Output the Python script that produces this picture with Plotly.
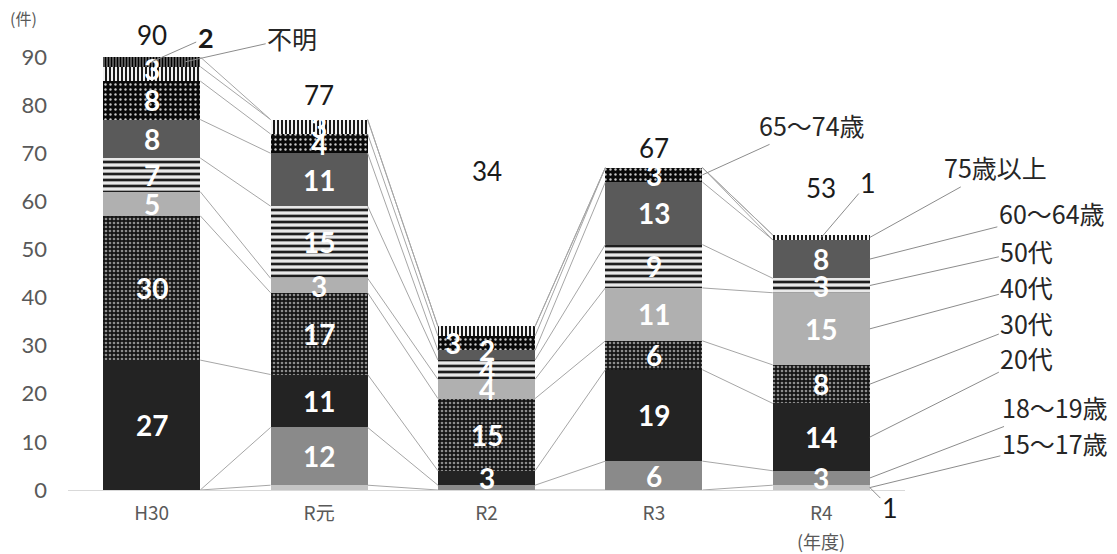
import plotly.graph_objects as go

# ---- data -------------------------------------------------------------
years = ["H30", "R元", "R2", "R3", "R4"]
groups = ["15～17歳", "18～19歳", "20代", "30代", "40代",
          "50代", "60～64歳", "65～74歳", "75歳以上", "不明"]

age_15_17 = [0, 1, 0, 0, 1]
age_18_19 = [0, 12, 1, 6, 3]
age_20s = [27, 11, 3, 19, 14]
age_30s = [30, 17, 15, 6, 8]
age_40s = [5, 3, 4, 11, 15]
age_50s = [7, 15, 4, 9, 3]
age_60_64 = [8, 11, 2, 13, 8]
age_65_74 = [8, 4, 3, 3, 0]
age_75_up = [3, 3, 2, 0, 1]
unknown = [2, 0, 0, 0, 0]

series = [age_15_17, age_18_19, age_20s, age_30s, age_40s,
          age_50s, age_60_64, age_65_74, age_75_up, unknown]

y_ticks = list(range(0, 91, 10))

# ---- styles -----------------------------------------------------------
# (bg colour, pattern shape, fg colour, pattern size, solidity)
fills = [
    ("#c4c4c4", "", "#c4c4c4", 8, 0.3),
    ("#8a8a8a", "", "#8a8a8a", 8, 0.3),
    ("#232323", "", "#232323", 8, 0.3),
    ("#151515", ".", "#8c8c8c", 4, 0.35),
    ("#b0b0b0", "", "#b0b0b0", 8, 0.3),
    ("#e8e8e8", "-", "#1e1e1e", 6, 0.45),
    ("#5a5a5a", "", "#5a5a5a", 8, 0.3),
    ("#0a0a0a", ".", "#c8c8c8", 5, 0.18),
    ("#f2f2f2", "|", "#1a1a1a", 4, 0.5),
    ("#6e6e6e", "|", "#000000", 3, 0.5),
]

BAR_W = 0.58
NUM_FONT = "Lato, 'Noto Sans CJK JP', sans-serif"
JP_FONT = "'Noto Sans CJK JP', sans-serif"
TEXT_GRAY = "#595959"

fig = go.Figure()

for g, (name, vals) in enumerate(zip(groups, series)):
    bg, shape, fg, size, sol = fills[g]
    fig.add_trace(go.Bar(
        x=list(range(len(years))), y=vals, name=name, width=BAR_W,
        marker=dict(color=bg, line=dict(width=0),
                    pattern=dict(shape=shape, bgcolor=bg, fgcolor=fg,
                                 size=size, solidity=sol, fillmode="replace")),
        showlegend=False, hoverinfo="skip",
    ))

# cumulative bottoms / tops of every segment
n = len(years)
bottoms, tops = [], []
running = [0] * n
for vals in series:
    bottoms.append(running[:])
    running = [r + v for r, v in zip(running, vals)]
    tops.append(running[:])
totals = running

# series lines linking each segment top between neighbouring bars
half = BAR_W / 2
for g in range(len(series)):
    xs, ys = [], []
    for i in range(n - 1):
        xs += [i + half, i + 1 - half, None]
        ys += [tops[g][i], tops[g][i + 1], None]
    fig.add_trace(go.Scatter(x=xs, y=ys, mode="lines",
                             line=dict(color="#a6a6a6", width=1),
                             showlegend=False, hoverinfo="skip"))

annotations = []

# value labels inside the segments
outside = {(0, 9), (4, 8), (4, 0)}
hidden = {(1, 0), (2, 1), (2, 8)}
label_nudge = {(2, 7): (-34, 0), (2, 6): (0, 5), (0, 8): (0, 5)}
for g, vals in enumerate(series):
    for i, v in enumerate(vals):
        if v == 0 or (i, g) in outside or (i, g) in hidden:
            continue
        dx, dy = label_nudge.get((i, g), (0, 0))
        annotations.append(dict(
            x=i, y=bottoms[g][i] + v / 2, xref="x", yref="y",
            text=str(v), showarrow=False, xshift=dx, yshift=dy,
            font=dict(family=NUM_FONT, size=28, color="white", weight="bold"),
        ))

# totals above each bar (pixel lift above the bar top)
total_lift = [22, 25, 155, 20, 47]
for i, t in enumerate(totals):
    annotations.append(dict(
        x=i, y=t, xref="x", yref="y", text=str(t), showarrow=False,
        yshift=total_lift[i], yanchor="middle",
        font=dict(family=NUM_FONT, size=26, color="#1a1a1a"),
    ))

# labels placed outside a bar with a leader line: (year, group, x-side, ax, ay, bold)
callouts = [
    (0, 9, 0.0, 54, -24, True),
    (4, 8, 0.0, 47, -55, False),
    (4, 0, half, 20, 20, False),
]
for i, g, side, ax, ay, bold in callouts:
    v = series[g][i]
    annotations.append(dict(
        x=i + side, y=bottoms[g][i] + v / 2, xref="x", yref="y",
        text=str(v), showarrow=True, arrowhead=0, arrowwidth=1,
        arrowcolor="#8c8c8c", ax=ax, ay=ay,
        font=dict(family=NUM_FONT, size=27, color="#1a1a1a",
                  weight="bold" if bold else "normal"),
    ))

# series names with leader lines: (year, group, x-side, ax, ay)
name_tags = [
    (0, 9, 0.2, 107, -24),
    (3, 7, half, 110, -50),
    (4, 8, half, 126, -70),
    (4, 6, half, 182, -46),
    (4, 5, half, 157, -35),
    (4, 4, half, 157, -42),
    (4, 3, half, 157, -61),
    (4, 2, half, 157, -79),
    (4, 1, half, 185, -71),
    (4, 0, half, 185, -45),
]
for i, g, side, ax, ay in name_tags:
    v = series[g][i]
    annotations.append(dict(
        x=i + side, y=bottoms[g][i] + v / 2, xref="x", yref="y",
        text=groups[g], showarrow=True, arrowhead=0, arrowwidth=1,
        arrowcolor="#8c8c8c", ax=ax, ay=ay,
        font=dict(family=JP_FONT, size=25, color="#262626"),
    ))

# axis unit captions
annotations.append(dict(
    x=-0.053, y=1.09, xref="paper", yref="paper", text="(件)",
    xanchor="center", yanchor="middle",
    showarrow=False, font=dict(family=JP_FONT, size=16, color=TEXT_GRAY),
))
annotations.append(dict(
    x=4, y=-0.118, xref="x", yref="paper", text="(年度)",
    xanchor="center", yanchor="middle",
    showarrow=False, font=dict(family=JP_FONT, size=18, color=TEXT_GRAY),
))

fig.update_layout(
    barmode="stack",
    width=1117, height=554,
    margin=dict(l=68, r=212, t=57, b=64),
    paper_bgcolor="white", plot_bgcolor="white",
    annotations=annotations,
    xaxis=dict(
        range=[-0.5, n - 0.5], tickvals=list(range(n)), ticktext=years,
        showgrid=False, zeroline=False, showline=True,
        linecolor="#d9d9d9", linewidth=1, ticks="",
        tickfont=dict(family=JP_FONT, size=19, color=TEXT_GRAY),
        ticklabelstandoff=6,
    ),
    yaxis=dict(
        range=[0, 90], tickvals=y_ticks, showgrid=False, zeroline=False,
        showline=False, ticks="",
        tickfont=dict(family=NUM_FONT, size=22, color=TEXT_GRAY),
        ticklabelstandoff=20,
    ),
)

fig.write_html("out.html")
